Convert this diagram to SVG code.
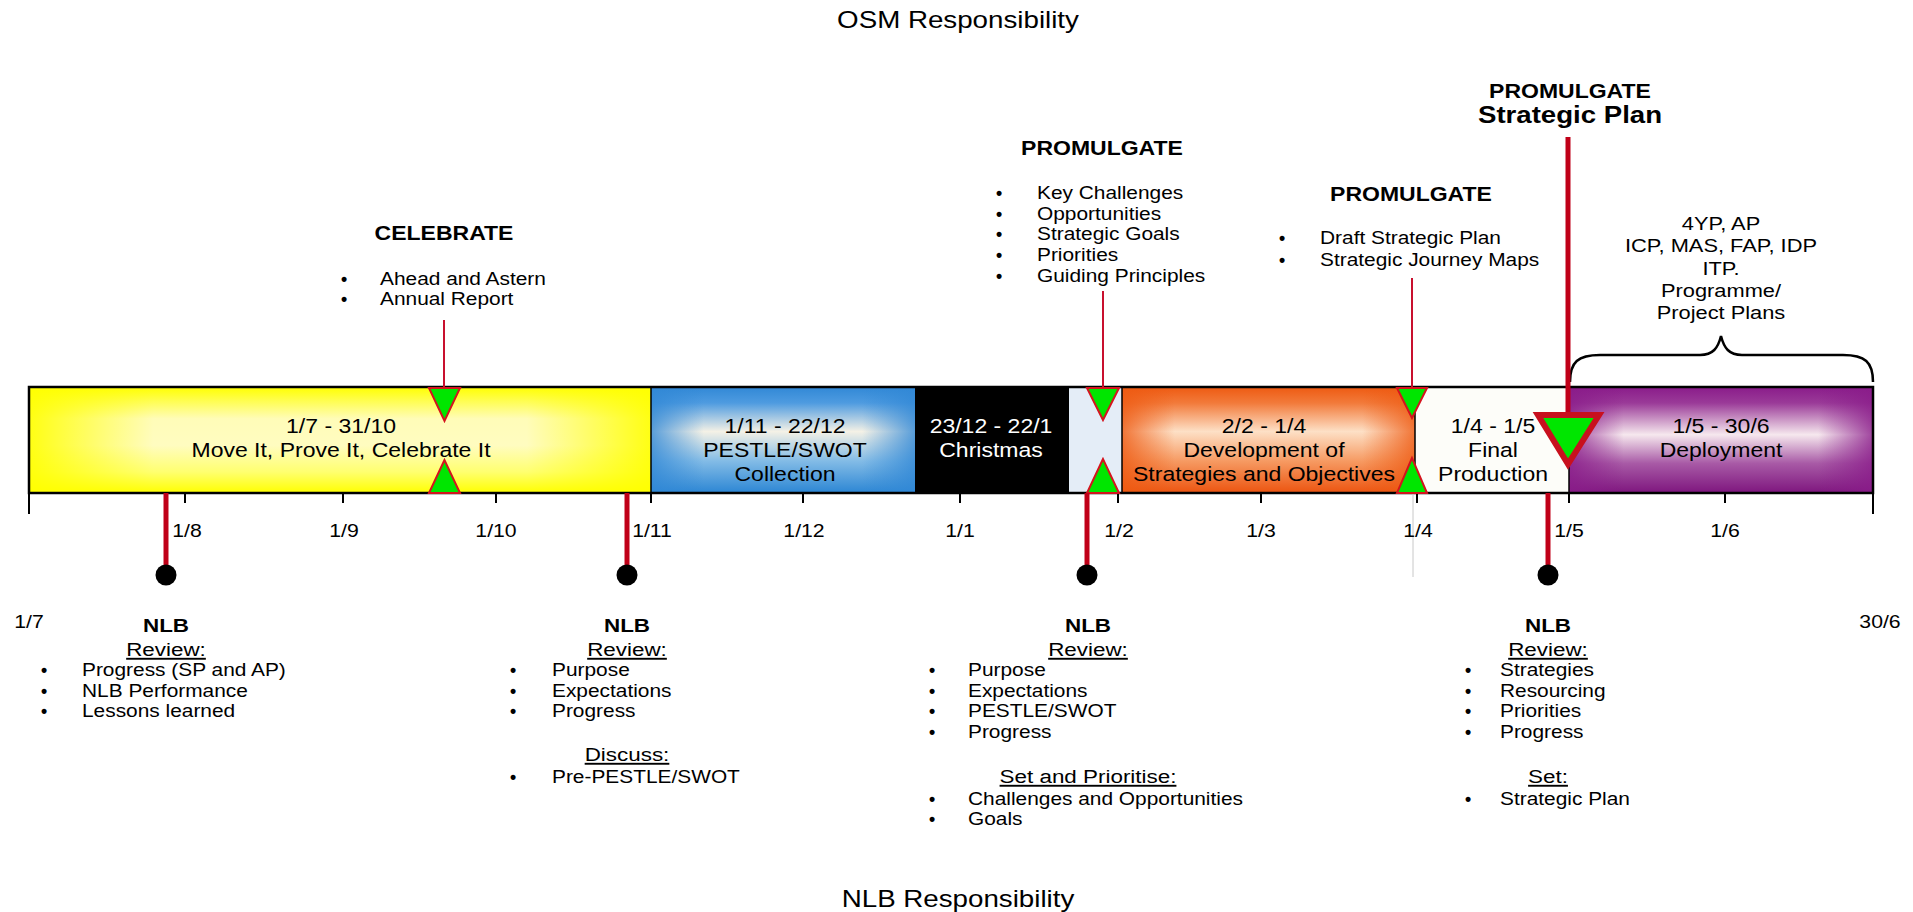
<svg xmlns="http://www.w3.org/2000/svg" width="1913" height="912" viewBox="0 0 1913 912">
<defs>
<style>
text { font-family: "Liberation Sans", Arial, Helvetica, sans-serif; fill: #000; }
.mid { text-anchor: middle; }
.bl { font-size: 17.7px; }
.dot { font-size: 17.7px; font-weight: bold; text-anchor: middle; }
.hd { font-size: 19.5px; font-weight: bold; }
.nlb { font-size: 19px; font-weight: bold; }
.ul { font-size: 19px; text-decoration: underline; }
.bar { font-size: 19.5px; }
.tk { font-size: 18px; }
.ttl { font-size: 23.5px; }
.plan { font-size: 23.4px; font-weight: bold; }
.dl { font-size: 18.5px; }
.thin { stroke: #c8102e; stroke-width: 2; fill: none; }
.pin { stroke: #c00018; stroke-width: 5; fill: none; }
.pinhead { fill: #000; }
.tri { fill: #00e600; stroke: #d4141e; stroke-width: 2; stroke-linejoin: miter; }
.tribig { fill: #00e600; stroke: #c8101e; stroke-width: 6; stroke-linejoin: miter; }
.tick { stroke: #000; stroke-width: 2; }
.div { stroke: #000; stroke-width: 1.5; }
</style>
<linearGradient id="gY" x1="0" y1="0" x2="0" y2="1">
<stop offset="0" stop-color="#ffff00"/><stop offset="0.3" stop-color="#fffcb8"/><stop offset="0.55" stop-color="#fffcc0"/><stop offset="0.8" stop-color="#ffff70"/><stop offset="1" stop-color="#ffff00"/>
</linearGradient>
<linearGradient id="gYe" x1="0" y1="0" x2="1" y2="0">
<stop offset="0" stop-color="#ffff00" stop-opacity="0.9"/><stop offset="0.2" stop-color="#ffff00" stop-opacity="0"/><stop offset="0.8" stop-color="#ffff00" stop-opacity="0"/><stop offset="1" stop-color="#ffff00" stop-opacity="0.9"/>
</linearGradient>
<linearGradient id="gB" x1="0" y1="0" x2="0" y2="1">
<stop offset="0" stop-color="#3188d6"/><stop offset="0.15" stop-color="#4e9be0"/><stop offset="0.42" stop-color="#f4f1e6"/><stop offset="0.7" stop-color="#82bbe6"/><stop offset="1" stop-color="#2c86d4"/>
</linearGradient>
<linearGradient id="gBe" x1="0" y1="0" x2="1" y2="0">
<stop offset="0" stop-color="#3188d6" stop-opacity="0.8"/><stop offset="0.2" stop-color="#3188d6" stop-opacity="0"/><stop offset="0.8" stop-color="#3188d6" stop-opacity="0"/><stop offset="1" stop-color="#3188d6" stop-opacity="0.8"/>
</linearGradient>
<linearGradient id="gO" x1="0" y1="0" x2="0" y2="1">
<stop offset="0" stop-color="#ee5a12"/><stop offset="0.15" stop-color="#f27a3a"/><stop offset="0.42" stop-color="#fde0c6"/><stop offset="0.7" stop-color="#f69a62"/><stop offset="1" stop-color="#ec5410"/>
</linearGradient>
<linearGradient id="gOe" x1="0" y1="0" x2="1" y2="0">
<stop offset="0" stop-color="#ee5a12" stop-opacity="0.8"/><stop offset="0.18" stop-color="#ee5a12" stop-opacity="0"/><stop offset="0.82" stop-color="#ee5a12" stop-opacity="0"/><stop offset="1" stop-color="#ee5a12" stop-opacity="0.8"/>
</linearGradient>
<linearGradient id="gP" x1="0" y1="0" x2="0" y2="1">
<stop offset="0" stop-color="#8a1c8a"/><stop offset="0.15" stop-color="#9a3a98"/><stop offset="0.45" stop-color="#f6e8ee"/><stop offset="0.72" stop-color="#a85aa6"/><stop offset="1" stop-color="#7e167e"/>
</linearGradient>
<linearGradient id="gPe" x1="0" y1="0" x2="1" y2="0">
<stop offset="0" stop-color="#8a1c8a" stop-opacity="0.8"/><stop offset="0.18" stop-color="#8a1c8a" stop-opacity="0"/><stop offset="0.82" stop-color="#8a1c8a" stop-opacity="0"/><stop offset="1" stop-color="#8a1c8a" stop-opacity="0.8"/>
</linearGradient>
</defs>

<rect x="0" y="0" width="1913" height="912" fill="#ffffff"/>

<g id="osm-title">
<g transform="translate(958 0) scale(1.18 1)"><text class="ttl mid" x="0" y="28">OSM Responsibility</text></g>
</g>
<g id="nlb-title">
<g transform="translate(958 0) scale(1.18 1)"><text class="ttl mid" x="0" y="907">NLB Responsibility</text></g>
</g>

<!-- timeline bar segments -->
<g id="seg-move-it">
<rect x="29" y="387" width="622" height="106" fill="url(#gY)"/>
<rect x="29" y="387" width="622" height="106" fill="url(#gYe)"/>
<g transform="translate(341 0) scale(1.18 1)">
<text class="bar mid" x="0" y="433">1/7 - 31/10</text>
<text class="bar mid" x="0" y="457">Move It, Prove It, Celebrate It</text>
</g>
</g>
<g id="seg-pestle">
<rect x="651" y="387" width="264" height="106" fill="url(#gB)"/>
<rect x="651" y="387" width="264" height="106" fill="url(#gBe)"/>
<g transform="translate(785 0) scale(1.18 1)">
<text class="bar mid" x="0" y="433">1/11 - 22/12</text>
<text class="bar mid" x="0" y="457">PESTLE/SWOT</text>
<text class="bar mid" x="0" y="481" fill="#0d1e36">Collection</text>
</g>
</g>
<g id="seg-christmas">
<rect x="915" y="387" width="154" height="106" fill="#000000"/>
<g transform="translate(991 0) scale(1.18 1)">
<text class="bar mid" x="0" y="433" style="fill:#ffffff">23/12 - 22/1</text>
<text class="bar mid" x="0" y="457" style="fill:#ffffff">Christmas</text>
</g>
</g>
<g id="seg-gap">
<rect x="1069" y="387" width="53" height="106" fill="#e4edf7"/>
</g>
<g id="seg-development">
<rect x="1122" y="387" width="293" height="106" fill="url(#gO)"/>
<rect x="1122" y="387" width="293" height="106" fill="url(#gOe)"/>
<g transform="translate(1264 0) scale(1.18 1)">
<text class="bar mid" x="0" y="433">2/2 - 1/4</text>
<text class="bar mid" x="0" y="457">Development of</text>
<text class="bar mid" x="0" y="481">Strategies and Objectives</text>
</g>
</g>
<g id="seg-final">
<rect x="1415" y="387" width="154" height="106" fill="#fdfdf9"/>
<g transform="translate(1493 0) scale(1.18 1)">
<text class="bar mid" x="0" y="433">1/4 - 1/5</text>
<text class="bar mid" x="0" y="457">Final</text>
<text class="bar mid" x="0" y="481">Production</text>
</g>
</g>
<g id="seg-deployment">
<rect x="1569" y="387" width="304" height="106" fill="url(#gP)"/>
<rect x="1569" y="387" width="304" height="106" fill="url(#gPe)"/>
<g transform="translate(1721 0) scale(1.18 1)">
<text class="bar mid" x="0" y="433">1/5 - 30/6</text>
<text class="bar mid" x="0" y="457">Deployment</text>
</g>
</g>
<g id="bar-outline">
<line class="div" x1="651" y1="387" x2="651" y2="493"/>
<line class="div" x1="1122" y1="387" x2="1122" y2="493"/>
<line class="div" x1="1415" y1="387" x2="1415" y2="493"/>
<line class="div" x1="1569" y1="387" x2="1569" y2="493"/>
<rect x="29" y="387" width="1844" height="106" fill="none" stroke="#000" stroke-width="2.5"/>
</g>

<!-- month axis -->
<g id="axis">
<line class="tick" x1="29" y1="493" x2="29" y2="514"/>
<line class="tick" x1="185" y1="493" x2="185" y2="503"/>
<line class="tick" x1="343" y1="493" x2="343" y2="503"/>
<line class="tick" x1="496" y1="493" x2="496" y2="503"/>
<line class="tick" x1="651" y1="493" x2="651" y2="503"/>
<line class="tick" x1="803" y1="493" x2="803" y2="503"/>
<line class="tick" x1="960" y1="493" x2="960" y2="503"/>
<line class="tick" x1="1118" y1="493" x2="1118" y2="503"/>
<line class="tick" x1="1261" y1="493" x2="1261" y2="503"/>
<line class="tick" x1="1417" y1="493" x2="1417" y2="503"/>
<line class="tick" x1="1569" y1="493" x2="1569" y2="503"/>
<line class="tick" x1="1725" y1="493" x2="1725" y2="503"/>
<line class="tick" x1="1873" y1="493" x2="1873" y2="514"/>
<line x1="1413" y1="493" x2="1413" y2="577" stroke="#c8c8c8" stroke-width="1"/>
<g transform="translate(187 0) scale(1.18 1)"><text class="tk mid" x="0" y="537">1/8</text></g>
<g transform="translate(344 0) scale(1.18 1)"><text class="tk mid" x="0" y="537">1/9</text></g>
<g transform="translate(496 0) scale(1.18 1)"><text class="tk mid" x="0" y="537">1/10</text></g>
<g transform="translate(652 0) scale(1.18 1)"><text class="tk mid" x="0" y="537">1/11</text></g>
<g transform="translate(804 0) scale(1.18 1)"><text class="tk mid" x="0" y="537">1/12</text></g>
<g transform="translate(960 0) scale(1.18 1)"><text class="tk mid" x="0" y="537">1/1</text></g>
<g transform="translate(1119 0) scale(1.18 1)"><text class="tk mid" x="0" y="537">1/2</text></g>
<g transform="translate(1261 0) scale(1.18 1)"><text class="tk mid" x="0" y="537">1/3</text></g>
<g transform="translate(1418 0) scale(1.18 1)"><text class="tk mid" x="0" y="537">1/4</text></g>
<g transform="translate(1569 0) scale(1.18 1)"><text class="tk mid" x="0" y="537">1/5</text></g>
<g transform="translate(1725 0) scale(1.18 1)"><text class="tk mid" x="0" y="537">1/6</text></g>
<g transform="translate(29 0) scale(1.18 1)"><text class="tk mid" x="0" y="628">1/7</text></g>
<g transform="translate(1880 0) scale(1.18 1)"><text class="tk mid" x="0" y="628">30/6</text></g>
</g>

<!-- OSM milestones -->
<g id="celebrate">
<g transform="translate(444 0) scale(1.18 1)"><text class="hd mid" x="0" y="240">CELEBRATE</text></g>
<text class="dot" x="344" y="285">•</text>
<text class="dot" x="344" y="305">•</text>
<g transform="translate(380 0) scale(1.18 1)">
<text class="bl" x="0" y="285">Ahead and Astern</text>
<text class="bl" x="0" y="305">Annual Report</text>
</g>
</g>
<g id="promulgate-goals">
<g transform="translate(1102 0) scale(1.18 1)"><text class="hd mid" x="0" y="155">PROMULGATE</text></g>
<text class="dot" x="999" y="199">•</text>
<text class="dot" x="999" y="220">•</text>
<text class="dot" x="999" y="240">•</text>
<text class="dot" x="999" y="261">•</text>
<text class="dot" x="999" y="282">•</text>
<g transform="translate(1037 0) scale(1.18 1)">
<text class="bl" x="0" y="199">Key Challenges</text>
<text class="bl" x="0" y="220">Opportunities</text>
<text class="bl" x="0" y="240">Strategic Goals</text>
<text class="bl" x="0" y="261">Priorities</text>
<text class="bl" x="0" y="282">Guiding Principles</text>
</g>
</g>
<g id="promulgate-draft">
<g transform="translate(1411 0) scale(1.18 1)"><text class="hd mid" x="0" y="201">PROMULGATE</text></g>
<text class="dot" x="1282" y="244">•</text>
<text class="dot" x="1282" y="266">•</text>
<g transform="translate(1320 0) scale(1.18 1)">
<text class="bl" x="0" y="244">Draft Strategic Plan</text>
<text class="bl" x="0" y="266">Strategic Journey Maps</text>
</g>
</g>
<g id="promulgate-plan">
<g transform="translate(1570 0) scale(1.18 1)">
<text class="hd mid" x="0" y="98">PROMULGATE</text>
<text class="plan mid" x="0" y="123">Strategic Plan</text>
</g>
</g>
<g id="deliverables">
<g transform="translate(1721 0) scale(1.18 1)">
<text class="dl mid" x="0" y="230">4YP, AP</text>
<text class="dl mid" x="0" y="252">ICP, MAS, FAP, IDP</text>
<text class="dl mid" x="0" y="275">ITP.</text>
<text class="dl mid" x="0" y="297">Programme/</text>
<text class="dl mid" x="0" y="319">Project Plans</text>
</g>
<path d="M1570,382 C1570,362 1578,355 1600,355 L1700,355 C1713,355 1718,348 1721,336 C1724,348 1729,355 1742,355 L1843,355 C1865,355 1873,362 1873,382" fill="none" stroke="#000" stroke-width="2.5"/>
</g>

<!-- NLB reviews -->
<g id="nlb-review-1">
<g transform="translate(166 0) scale(1.18 1)">
<text class="nlb mid" x="0" y="632">NLB</text>
<text class="ul mid" x="0" y="656">Review:</text>
</g>
<text class="dot" x="44" y="676">•</text>
<text class="dot" x="44" y="697">•</text>
<text class="dot" x="44" y="717">•</text>
<g transform="translate(82 0) scale(1.18 1)">
<text class="bl" x="0" y="676">Progress (SP and AP)</text>
<text class="bl" x="0" y="697">NLB Performance</text>
<text class="bl" x="0" y="717">Lessons learned</text>
</g>
</g>
<g id="nlb-review-2">
<g transform="translate(627 0) scale(1.18 1)">
<text class="nlb mid" x="0" y="632">NLB</text>
<text class="ul mid" x="0" y="656">Review:</text>
<text class="ul mid" x="0" y="761">Discuss:</text>
</g>
<text class="dot" x="513" y="676">•</text>
<text class="dot" x="513" y="697">•</text>
<text class="dot" x="513" y="717">•</text>
<text class="dot" x="513" y="783">•</text>
<g transform="translate(552 0) scale(1.18 1)">
<text class="bl" x="0" y="676">Purpose</text>
<text class="bl" x="0" y="697">Expectations</text>
<text class="bl" x="0" y="717">Progress</text>
<text class="bl" x="0" y="783">Pre-PESTLE/SWOT</text>
</g>
</g>
<g id="nlb-review-3">
<g transform="translate(1088 0) scale(1.18 1)">
<text class="nlb mid" x="0" y="632">NLB</text>
<text class="ul mid" x="0" y="656">Review:</text>
<text class="ul mid" x="0" y="783">Set and Prioritise:</text>
</g>
<text class="dot" x="932" y="676">•</text>
<text class="dot" x="932" y="697">•</text>
<text class="dot" x="932" y="717">•</text>
<text class="dot" x="932" y="738">•</text>
<text class="dot" x="932" y="805">•</text>
<text class="dot" x="932" y="825">•</text>
<g transform="translate(968 0) scale(1.18 1)">
<text class="bl" x="0" y="676">Purpose</text>
<text class="bl" x="0" y="697">Expectations</text>
<text class="bl" x="0" y="717">PESTLE/SWOT</text>
<text class="bl" x="0" y="738">Progress</text>
<text class="bl" x="0" y="805">Challenges and Opportunities</text>
<text class="bl" x="0" y="825">Goals</text>
</g>
</g>
<g id="nlb-review-4">
<g transform="translate(1548 0) scale(1.18 1)">
<text class="nlb mid" x="0" y="632">NLB</text>
<text class="ul mid" x="0" y="656">Review:</text>
<text class="ul mid" x="0" y="783">Set:</text>
</g>
<text class="dot" x="1468" y="676">•</text>
<text class="dot" x="1468" y="697">•</text>
<text class="dot" x="1468" y="717">•</text>
<text class="dot" x="1468" y="738">•</text>
<text class="dot" x="1468" y="805">•</text>
<g transform="translate(1500 0) scale(1.18 1)">
<text class="bl" x="0" y="676">Strategies</text>
<text class="bl" x="0" y="697">Resourcing</text>
<text class="bl" x="0" y="717">Priorities</text>
<text class="bl" x="0" y="738">Progress</text>
<text class="bl" x="0" y="805">Strategic Plan</text>
</g>
</g>

<!-- connectors: pointer lines, milestone triangles, NLB pins -->
<g id="connectors">
<line class="thin" x1="444" y1="320" x2="444" y2="390"/>
<line class="thin" x1="1103" y1="291" x2="1103" y2="390"/>
<line class="thin" x1="1412" y1="278" x2="1412" y2="390"/>
<line x1="1568" y1="137" x2="1568" y2="416" stroke="#c00018" stroke-width="5"/>

<polygon class="tri" points="429,388 460,388 444.5,421"/>
<polygon class="tri" points="444.5,460 429,493 460,493"/>
<polygon class="tri" points="1087,388 1119,388 1103,420"/>
<polygon class="tri" points="1103,459 1087,493 1119,493"/>
<polygon class="tri" points="1397,388 1427,388 1412,418"/>
<polygon class="tri" points="1412,458 1397,493 1427,493"/>
<polygon class="tribig" points="1538,415 1599,415 1568,464"/>

<line class="pin" x1="166" y1="493" x2="166" y2="572"/>
<line class="pin" x1="627" y1="493" x2="627" y2="572"/>
<line class="pin" x1="1087" y1="493" x2="1087" y2="572"/>
<line class="pin" x1="1548" y1="493" x2="1548" y2="572"/>
<circle class="pinhead" cx="166" cy="575" r="10.5"/>
<circle class="pinhead" cx="627" cy="575" r="10.5"/>
<circle class="pinhead" cx="1087" cy="575" r="10.5"/>
<circle class="pinhead" cx="1548" cy="575" r="10.5"/>
</g>
</svg>
